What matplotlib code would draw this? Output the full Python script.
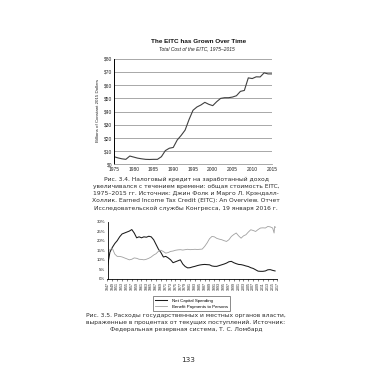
import matplotlib.pyplot as plt

# ---- Fig 3.4: EITC total cost, billions of 2015 dollars
eitc_years = list(range(1975, 2016))
eitc_cost = [5.9, 5.0, 4.3, 3.9, 6.4, 5.6, 4.8, 4.3, 3.9, 3.8,
             3.9, 3.9, 5.9, 10.5, 12.3, 12.9, 18.5, 22.0, 26.0, 34.0,
             41.0, 43.5, 45.0, 47.0, 45.5, 44.5, 47.5, 50.0, 50.5, 50.5,
             51.0, 52.0, 55.3, 56.0, 65.5, 65.0, 66.3, 66.2, 69.3, 68.5,
             68.5]
eitc_yticks = [0, 10, 20, 30, 40, 50, 60, 70, 80]
eitc_xticks = [1975, 1980, 1985, 1990, 1995, 2000, 2005, 2010, 2015]

# ---- Fig 3.5: state & local spending, % of current receipts
capital_years = list(range(1947, 2017))
capital_pct = [6.8, 14.0, 16.5, 18.5, 20.0, 22.0, 23.5, 24.0, 24.5, 25.0,
               25.8, 24.0, 21.5, 22.0, 21.5, 22.0, 21.8, 22.3, 22.0, 20.5,
               18.0, 15.5, 13.8, 11.5, 11.8, 11.0, 10.0, 8.5, 9.0, 9.5,
               10.0, 7.8, 6.5, 5.8, 5.9, 6.3, 6.6, 7.0, 7.3, 7.5,
               7.6, 7.5, 7.4, 6.8, 6.6, 6.6, 7.0, 7.4, 7.8, 8.3,
               9.0, 9.2, 8.5, 8.0, 7.6, 7.5, 7.2, 6.8, 6.5, 5.9,
               5.5, 4.8, 4.1, 4.0, 4.0, 4.2, 4.8, 4.9, 4.5, 4.2]
benefit_years = list(range(1947, 2016)) + [2015.6, 2015.8, 2016.2]
benefit_pct = [14.4, 15.3, 16.0, 13.0, 11.8, 11.8, 11.5, 11.0, 10.5, 10.0,
               10.3, 11.0, 10.8, 10.3, 10.2, 10.0, 10.3, 10.8, 11.5, 12.5,
               13.2, 14.5, 15.0, 14.3, 13.5, 13.8, 14.4, 14.6, 15.0, 15.2,
               15.3, 15.1, 15.3, 15.5, 15.3, 15.4, 15.5, 15.4, 15.5, 15.6,
               17.0, 18.8, 21.0, 22.2, 22.0, 21.2, 20.8, 20.5, 20.0, 19.6,
               20.5, 22.2, 23.2, 24.0, 22.5, 21.3, 22.5, 23.1, 24.5, 25.7,
               25.3, 24.8, 25.8, 26.6, 26.7, 26.6, 27.4, 27.2, 26.6,
               24.0, 27.4, 27.0]
pct_yticks = [0, 5, 10, 15, 20, 25, 30]
pct_xticks = list(range(1947, 2018, 2))

caption1 = ["Рис. 3.4. Налоговый кредит на заработанный доход",
            "увеличивался с течением времени: общая стоимость EITC,",
            "1975–2015 гг. Источник: Джин Фолк и Марго Л. Крэндалл-",
            "Холлик. Earned Income Tax Credit (EITC): An Overview. Отчет",
            "Исследовательской службы Конгресса, 19 января 2016 г."]
caption2 = ["Рис. 3.5. Расходы государственных и местных органов власти,",
            "выраженные в процентах от текущих поступлений. Источник:",
            "Федеральная резервная система, Т. С. Ломбард"]

W = H = 380.0
fig = plt.figure(figsize=(3.8, 3.8), dpi=100)
fig.patch.set_facecolor("white")

chart_font = "Liberation Sans"
page_font = "DejaVu Sans"
ink = "#222222"

# ---------- chart 1
ax1 = fig.add_axes([114 / W, 1 - 164.5 / H, 158 / W, 105.8 / H])
ax1.plot(eitc_years, eitc_cost, color="#404040", lw=0.8)
ax1.set_xlim(1975, 2015)
ax1.set_ylim(0, 80)
ax1.set_yticks(eitc_yticks)
ax1.set_yticklabels(["$%d" % v for v in eitc_yticks])
ax1.set_xticks(eitc_xticks)
ax1.tick_params(length=0, pad=1.5, labelsize=3.5, colors=ink)
for lab in ax1.get_xticklabels() + ax1.get_yticklabels():
    lab.set_family(chart_font)
ax1.grid(axis="y", color="#9a9a9a", lw=0.6)
ax1.set_axisbelow(True)
for s in ["top", "right"]:
    ax1.spines[s].set_visible(False)
ax1.spines["left"].set_linewidth(0.7)
ax1.spines["bottom"].set_color("#9a9a9a")
ax1.spines["bottom"].set_linewidth(0.6)
fig.text(97.5 / W, 1 - 110 / H, "Billions of Constant 2015 Dollars", rotation=90,
         ha="center", va="center", fontsize=3.2, family=chart_font, color=ink)
fig.text(199 / W, 1 - 41.5 / H, "The EITC has Grown Over Time", ha="center",
         va="center", fontsize=4.6, weight="bold", family=chart_font, color="#111111")
fig.text(197 / W, 1 - 48.3 / H, "Total Cost of the EITC, 1975–2015", ha="center",
         va="center", fontsize=3.5, style="italic", family=chart_font, color=ink)

for i, line in enumerate(caption1):
    fig.text(186 / W, 1 - (179 + 7.25 * i) / H, line, ha="center", va="center",
             fontsize=4.3, family=page_font, color="#2a2a2a")

# ---------- chart 2
ax2 = fig.add_axes([107.5 / W, 1 - 279 / H, 170 / W, 57.5 / H])
ax2.plot(capital_years, capital_pct, color="#1a1a1a", lw=0.75,
         label="Net Capital Spending")
ax2.plot(benefit_years, benefit_pct, color="#a0a0a0", lw=0.6,
         label="Benefit Payments to Persons")
ax2.set_xlim(1947, 2017)
ax2.set_ylim(0, 30)
ax2.set_yticks(pct_yticks)
ax2.set_yticklabels(["%d%%" % v for v in pct_yticks])
ax2.set_xticks(pct_xticks)
ax2.set_xticklabels([str(y) for y in pct_xticks], rotation=90)
ax2.tick_params(axis="y", length=0, pad=1.5, labelsize=3.2, colors=ink)
ax2.tick_params(axis="x", length=1.2, width=0.4, pad=0.8, labelsize=2.6, colors=ink)
for lab in ax2.get_xticklabels() + ax2.get_yticklabels():
    lab.set_family(chart_font)
for s in ["top", "right"]:
    ax2.spines[s].set_visible(False)
ax2.spines["left"].set_linewidth(0.6)
ax2.spines["bottom"].set_linewidth(0.6)
leg = ax2.legend(loc="upper center", bbox_to_anchor=(191.5 / W, 1 - 294 / H),
                 bbox_transform=fig.transFigure, fancybox=False, frameon=True,
                 prop={"family": chart_font, "size": 3.2}, handlelength=2.6,
                 borderpad=0.5, labelspacing=0.5, handletextpad=1.2)
leg.get_frame().set_edgecolor("#333333")
leg.get_frame().set_linewidth(0.5)

for i, line in enumerate(caption2):
    fig.text(186 / W, 1 - (316 + 6.8 * i) / H, line, ha="center", va="center",
             fontsize=4.3, family=page_font, color="#2a2a2a")

fig.text(188 / W, 1 - 360 / H, "133", ha="center", va="center",
         fontsize=5.2, family=page_font, color="#2a2a2a")

fig.savefig("out.png", dpi=100, facecolor="white")
